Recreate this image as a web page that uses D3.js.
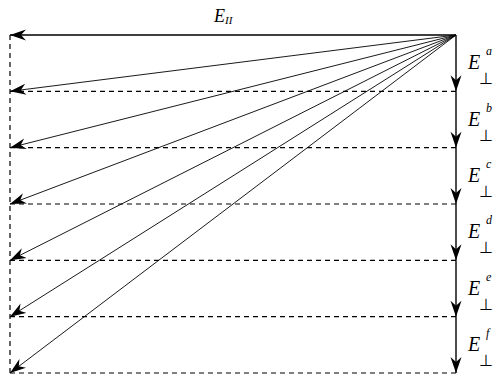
<!DOCTYPE html>
<html>
<head>
<meta charset="utf-8">
<script src="https://cdn.jsdelivr.net/npm/d3@7"></script>
<style>
  body { margin: 0; background: #fff; }
  svg { display: block; }
  text { font-family: "Liberation Serif", "Times New Roman", serif; }
</style>
</head>
<body>
<div id="chart"></div>
<script>
// perpendicular components, one per step
const components = ['a', 'b', 'c', 'd', 'e', 'f'];
// accumulated perpendicular steps reached by each resultant vector
const steps = [1, 2, 3, 4, 5, 6];
// parallel component (same for all)
const parallel = 1;
const parallelLabel = 'II';

const width = 496;
const height = 381;

const x = d3.scaleLinear().domain([0, parallel]).range([456, 10]);
const y = d3.scaleLinear().domain([0, 6]).range([35, 373]);

const svg = d3.select('#chart')
  .append('svg')
  .attr('width', width)
  .attr('height', height);

svg.append('defs')
  .append('marker')
  .attr('id', 'head')
  .attr('markerUnits', 'userSpaceOnUse')
  .attr('viewBox', '-16 -6 17 12')
  .attr('refX', 0)
  .attr('refY', 0)
  .attr('markerWidth', 17)
  .attr('markerHeight', 12)
  .attr('orient', 'auto')
  .append('path')
  .attr('d', 'M0,0 L-16,-5.5 L-11,0 L-16,5.5 Z')
  .attr('fill', '#000');

// dashed helper lines
svg.append('g')
  .selectAll('line')
  .data(steps)
  .enter()
  .append('line')
  .attr('x1', x(parallel))
  .attr('x2', x(0))
  .attr('y1', d => y(d))
  .attr('y2', d => y(d))
  .attr('stroke', '#000')
  .attr('stroke-width', 1.2)
  .attr('stroke-dasharray', '5,4');

svg.append('line')
  .attr('x1', x(parallel))
  .attr('x2', x(parallel))
  .attr('y1', y(0))
  .attr('y2', y(6))
  .attr('stroke', '#000')
  .attr('stroke-width', 1.2)
  .attr('stroke-dasharray', '5,4');

// parallel component
svg.append('line')
  .attr('x1', x(0))
  .attr('y1', y(0))
  .attr('x2', x(parallel))
  .attr('y2', y(0))
  .attr('stroke', '#000')
  .attr('stroke-width', 1.4)
  .attr('marker-end', 'url(#head)');

// resultant vectors
svg.append('g')
  .selectAll('line')
  .data(steps)
  .enter()
  .append('line')
  .attr('x1', x(0))
  .attr('y1', y(0))
  .attr('x2', x(parallel))
  .attr('y2', d => y(d))
  .attr('stroke', '#000')
  .attr('stroke-width', 0.9)
  .attr('marker-end', 'url(#head)');

// perpendicular steps
svg.append('g')
  .selectAll('line')
  .data(steps)
  .enter()
  .append('line')
  .attr('x1', x(0))
  .attr('y1', d => y(d - 1))
  .attr('x2', x(0))
  .attr('y2', d => y(d))
  .attr('stroke', '#000')
  .attr('stroke-width', 1.4)
  .attr('marker-end', 'url(#head)');

// E_II label
const parLabel = svg.append('text')
  .attr('x', 214)
  .attr('y', 22)
  .style('font-style', 'italic')
  .style('font-size', '18px')
  .attr('fill', '#000');
parLabel.append('tspan').text('E');
parLabel.append('tspan')
  .style('font-size', '11px')
  .attr('dy', 2)
  .text(parallelLabel);

// E_perp labels
const labels = svg.append('g')
  .selectAll('g')
  .data(components)
  .enter()
  .append('g')
  .attr('transform', (d, i) => `translate(468, ${(y(i) + y(i + 1)) / 2})`);

labels.append('text')
  .attr('x', 0)
  .attr('y', 6)
  .style('font-style', 'italic')
  .style('font-size', '20px')
  .attr('fill', '#000')
  .text('E');

labels.append('text')
  .attr('x', 11)
  .attr('y', 21)
  .style('font-size', '16px')
  .attr('fill', '#000')
  .text('\u22A5');

labels.append('text')
  .attr('x', 18)
  .attr('y', -8)
  .style('font-style', 'italic')
  .style('font-size', '12px')
  .attr('fill', '#000')
  .text(d => d);
</script>
</body>
</html>
